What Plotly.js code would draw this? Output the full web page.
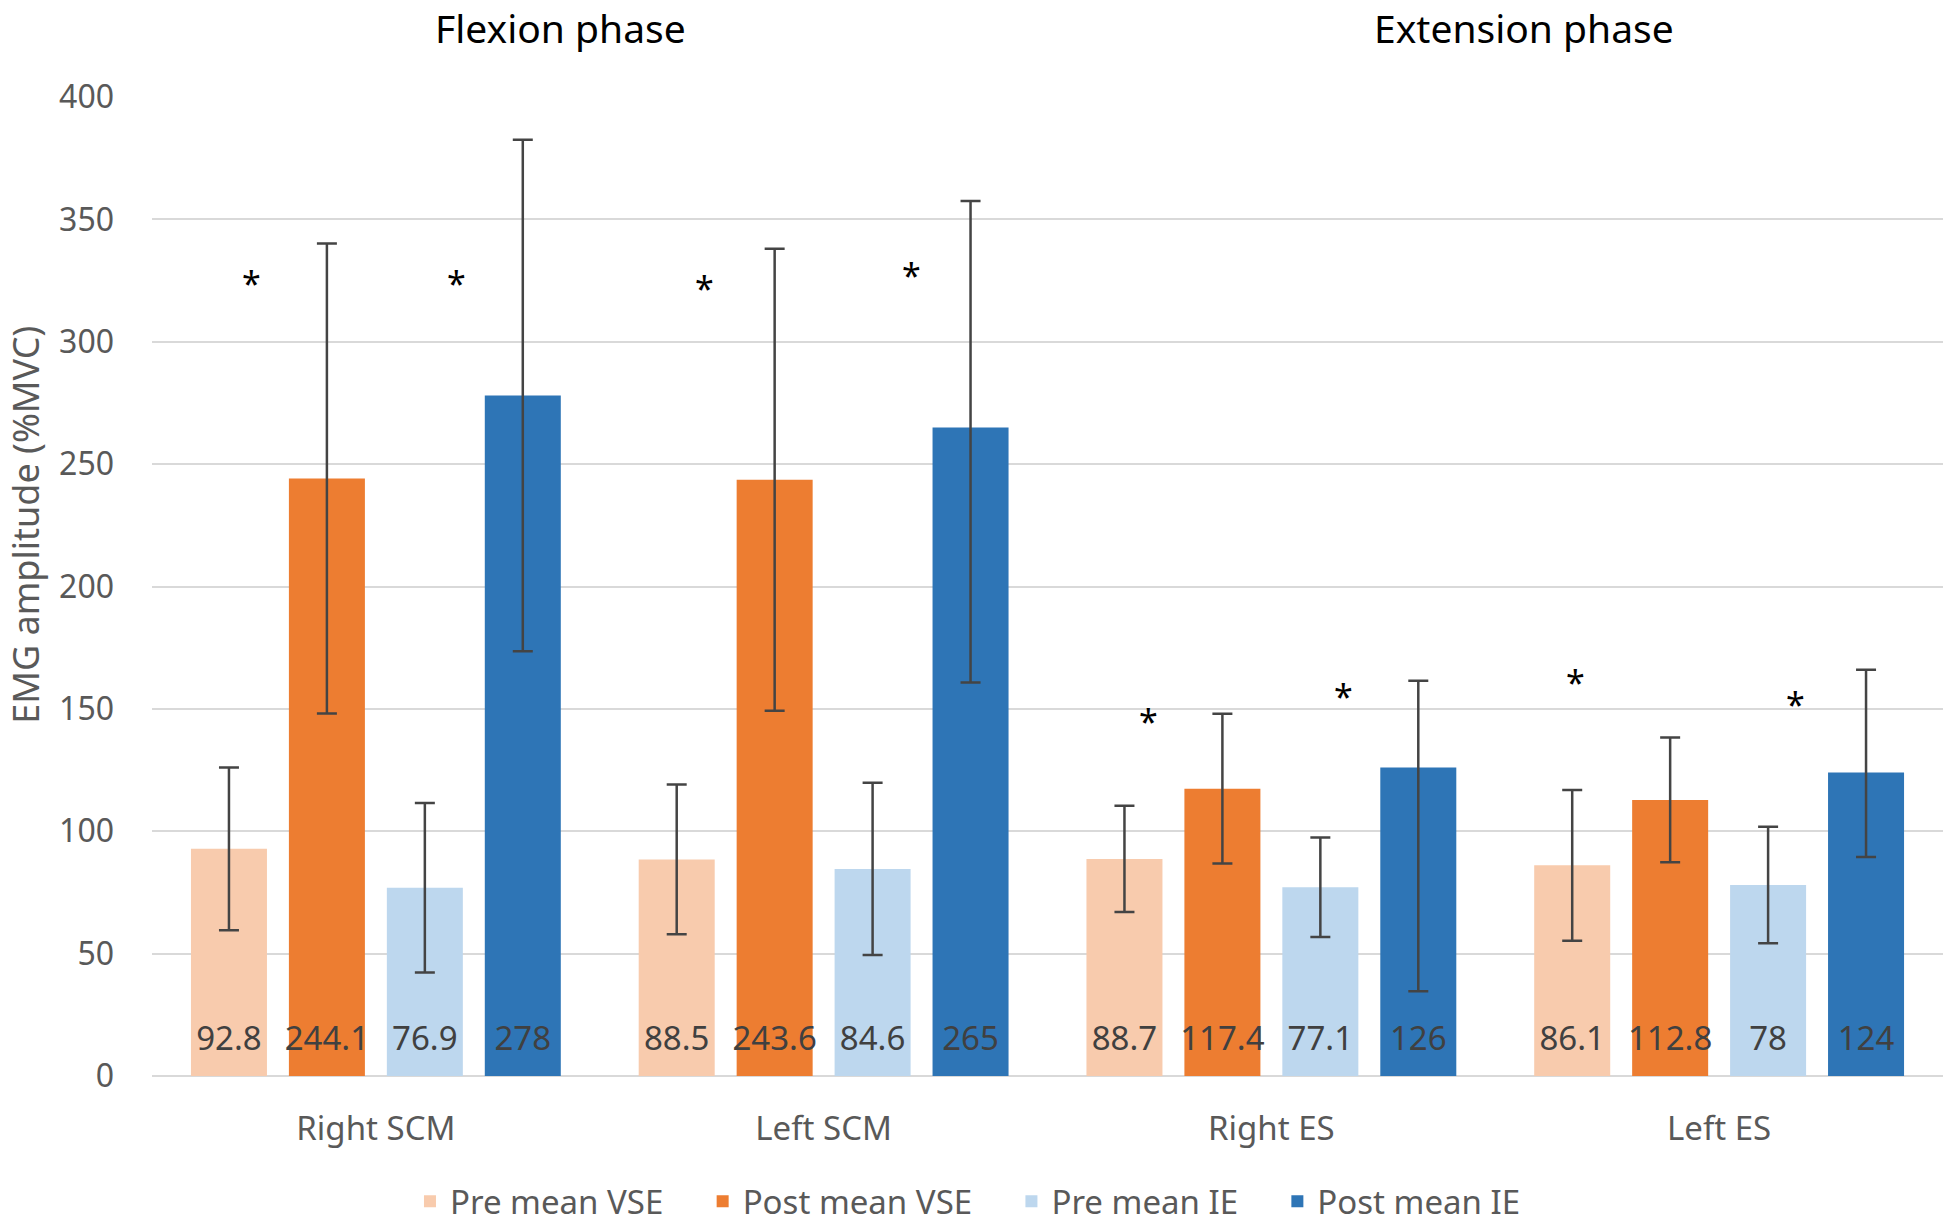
<!DOCTYPE html>
<html>
<head>
<meta charset="utf-8">
<script src="https://cdn.plot.ly/plotly-3.0.1.min.js"></script>
<style>html,body{margin:0;padding:0;background:#fff;}</style>
</head>
<body>
<div id="chart" style="width:1946px;height:1225px;"></div>
<script>
// ---- data ----
const categories = ["Right SCM", "Left SCM", "Right ES", "Left ES"];
const seriesNames = ["Pre mean VSE", "Post mean VSE", "Pre mean IE", "Post mean IE"];

const preVSE  = [92.8, 88.5, 88.7, 86.1];
const postVSE = [244.1, 243.6, 117.4, 112.8];
const preIE   = [76.9, 84.6, 77.1, 78];
const postIE  = [278, 265, 126, 124];

// error bars (plus / minus)
const preVSEerrPlus   = [33.2, 30.6, 21.7, 30.8];
const preVSEerrMinus  = [33.2, 30.6, 21.7, 30.8];
const postVSEerrPlus  = [96.0, 94.4, 30.6, 25.5];
const postVSEerrMinus = [96.0, 94.4, 30.6, 25.5];
const preIEerrPlus    = [34.6, 35.2, 20.3, 23.8];
const preIEerrMinus   = [34.6, 35.2, 20.3, 23.8];
const postIEerrPlus   = [104.5, 92.5, 35.5, 42.0];
const postIEerrMinus  = [104.5, 104.2, 91.4, 34.5];

// significance asterisks: two per category (VSE pair, IE pair)
const starVSEheight = [327, 325, 148, 164];
const starIEheight  = [327, 330, 158, 155];

const phaseTitles = ["Flexion phase", "Extension phase"];
const yTitle = "EMG amplitude (%MVC)";

// ---- styles ----
const colors = ["#F8CBAD", "#ED7D31", "#BDD7EE", "#2E75B6"];
const FONT = "Noto Sans, Open Sans, sans-serif";
const grey = "#595959";
const pad = "\u00a0\u00a0\u00a0\u00a0";
// invisible tall spacer so the value label sits a little above the bar base
const lift = "<span style='font-size:80px'>\u200a</span>";

const values = [preVSE, postVSE, preIE, postIE];
const errP = [preVSEerrPlus, postVSEerrPlus, preIEerrPlus, postIEerrPlus];
const errM = [preVSEerrMinus, postVSEerrMinus, preIEerrMinus, postIEerrMinus];

const traces = values.map((v, i) => ({
  type: "bar",
  name: seriesNames[i] + (i < 3 ? pad : ""),
  x: categories,
  y: v,
  marker: {color: colors[i]},
  text: v.map(val => lift + String(val) + lift),
  textposition: "inside",
  insidetextanchor: "start",
  constraintext: "none",
  textangle: 0,
  cliponaxis: false,
  insidetextfont: {family: FONT, size: 33, color: "#404040"},
  hoverinfo: "skip",
  error_y: {
    type: "data", symmetric: false,
    array: errP[i], arrayminus: errM[i],
    color: "#444444", thickness: 2.5, width: 10
  }
}));

const annotations = [];
// asterisks placed relative to the category centre
const vseShift = [-124, -119, -123, -144];
const ieShift = [81, 88, 72, 76];
categories.forEach((c, i) => {
  annotations.push({x: c, y: starVSEheight[i], xref: "x", yref: "y", text: "*", showarrow: false,
    xshift: vseShift[i], yshift: -7, font: {family: FONT, size: 34, color: "#000"}});
  annotations.push({x: c, y: starIEheight[i], xref: "x", yref: "y", text: "*", showarrow: false,
    xshift: ieShift[i], yshift: -7, font: {family: FONT, size: 34, color: "#000"}});
});
annotations.push({x: 0.228, y: 1.071, xref: "paper", yref: "paper", xanchor: "center", yanchor: "middle",
  text: phaseTitles[0], showarrow: false, font: {family: FONT, size: 39, color: "#000"}});
annotations.push({x: 0.766, y: 1.071, xref: "paper", yref: "paper", xanchor: "center", yanchor: "middle",
  text: phaseTitles[1], showarrow: false, font: {family: FONT, size: 39, color: "#000"}});
annotations.push({x: -0.0704, y: 0.563, xref: "paper", yref: "paper", xanchor: "center", yanchor: "middle",
  text: yTitle, textangle: -90, showarrow: false, font: {family: FONT, size: 36, color: grey}});

const layout = {
  width: 1946, height: 1225,
  margin: {l: 152, r: 3, t: 97, b: 149, pad: 0, autoexpand: false},
  paper_bgcolor: "#fff", plot_bgcolor: "#fff",
  barmode: "group",
  bargap: 0.125,
  bargroupgap: 0.224,
  font: {family: FONT, color: grey},
  showlegend: true,
  legend: {
    orientation: "h", x: 0.4556, xanchor: "center", y: -0.128, yanchor: "middle",
    font: {family: FONT, size: 33, color: grey}, traceorder: "normal", itemwidth: 30
  },
  xaxis: {
    type: "category", showline: false, ticks: "", showgrid: false, zeroline: false,
    tickfont: {family: FONT, size: 33, color: grey}, ticklabelstandoff: 30, automargin: false
  },
  yaxis: {
    range: [0, 400], dtick: 50, tick0: 0,
    showgrid: true, gridcolor: "#d9d9d9", gridwidth: 2,
    zeroline: true, zerolinecolor: "#d9d9d9", zerolinewidth: 2,
    showline: false, ticks: "",
    tickfont: {family: FONT, size: 32, color: grey}, ticklabelstandoff: 37,
    automargin: false
  },
  annotations: annotations
};

Plotly.newPlot("chart", traces, layout, {displayModeBar: false, staticPlot: true});
</script>
</body>
</html>
